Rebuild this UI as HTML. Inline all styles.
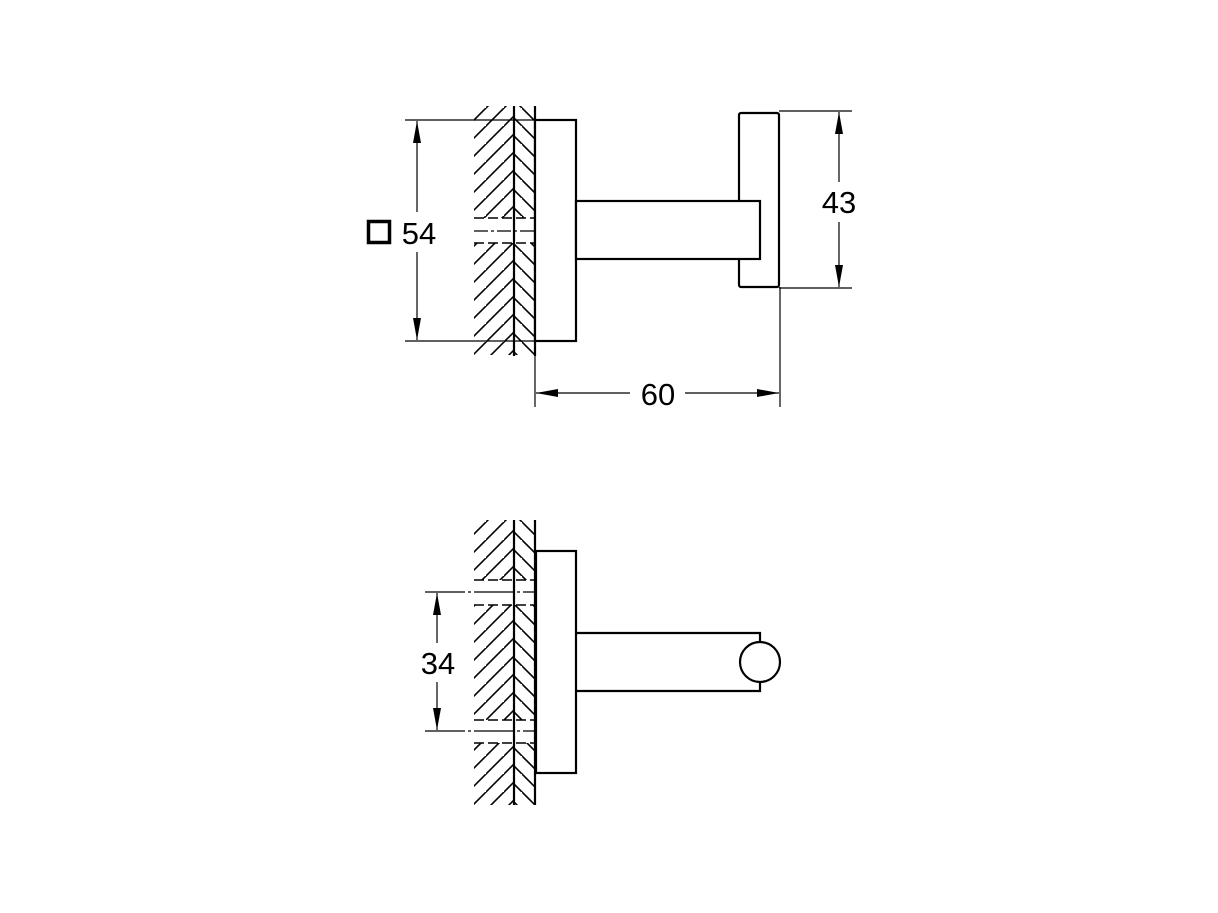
<!DOCTYPE html>
<html><head><style>html,body{margin:0;padding:0;background:#fff}svg{display:block}</style></head>
<body>
<svg width="1218" height="913" viewBox="0 0 1218 913" xmlns="http://www.w3.org/2000/svg" font-family="Liberation Sans, sans-serif">
<defs>
<pattern id="fw" patternUnits="userSpaceOnUse" width="18" height="18"><path d="M-2,20 L20,-2 M-20,20 L2,-2 M16,38 L38,16" stroke="#000" stroke-width="1.6" fill="none"/></pattern>
<pattern id="bw" patternUnits="userSpaceOnUse" width="18" height="18"><path d="M-2,-2 L20,20 M-20,-2 L2,20 M16,-20 L38,2" stroke="#000" stroke-width="1.6" fill="none"/></pattern>
<marker id="ar" viewBox="0 0 22 8" refX="22" refY="4" markerWidth="22" markerHeight="8" markerUnits="userSpaceOnUse" orient="auto"><path d="M0,0 L22,4 L0,8z" fill="#000"/></marker>
</defs>
<g fill="none" stroke="#000">
<rect x="474" y="106" width="40" height="112" fill="url(#fw)" stroke="none"/>
<rect x="474" y="243" width="40" height="112" fill="url(#fw)" stroke="none"/>
<rect x="514" y="106" width="21" height="112" fill="url(#bw)" stroke="none"/>
<rect x="514" y="243" width="21" height="112" fill="url(#bw)" stroke="none"/>
<line x1="514" y1="106" x2="514" y2="356" stroke-width="2.2"/>
<line x1="535" y1="106" x2="535" y2="356" stroke-width="2.2"/>
<line x1="474" y1="218" x2="535" y2="218" stroke-width="1.5" stroke-dasharray="10,4"/>
<line x1="474" y1="243" x2="535" y2="243" stroke-width="1.5" stroke-dasharray="10,4"/>
<line x1="474" y1="231" x2="535" y2="231" stroke-width="1.2" stroke-dasharray="14,3,3,3"/>
<rect x="535" y="120" width="41" height="221" stroke-width="2.2" fill="#fff"/>
<rect x="739" y="113" width="40" height="174" stroke-width="2.2" fill="#fff" rx="2"/>
<rect x="576" y="201" width="184" height="58" stroke-width="2.2" fill="#fff"/>
<line x1="405" y1="120" x2="535" y2="120" stroke-width="1.2"/>
<line x1="405" y1="341" x2="535" y2="341" stroke-width="1.2"/>
<line x1="417" y1="212" x2="417" y2="121" stroke-width="1.2" marker-end="url(#ar)"/>
<line x1="417" y1="252" x2="417" y2="340" stroke-width="1.2" marker-end="url(#ar)"/>
<rect x="368.5" y="221.5" width="21" height="21" stroke-width="3.5"/>
<line x1="779" y1="111" x2="852" y2="111" stroke-width="1.2"/>
<line x1="779" y1="288" x2="852" y2="288" stroke-width="1.2"/>
<line x1="839" y1="182" x2="839" y2="112" stroke-width="1.2" marker-end="url(#ar)"/>
<line x1="839" y1="222" x2="839" y2="287" stroke-width="1.2" marker-end="url(#ar)"/>
<line x1="535" y1="341" x2="535" y2="407" stroke-width="1.2"/>
<line x1="780" y1="287" x2="780" y2="407" stroke-width="1.2"/>
<line x1="630" y1="393" x2="536" y2="393" stroke-width="1.2" marker-end="url(#ar)"/>
<line x1="685" y1="393" x2="779" y2="393" stroke-width="1.2" marker-end="url(#ar)"/>
<rect x="474" y="520" width="40" height="60" fill="url(#fw)" stroke="none"/>
<rect x="474" y="605" width="40" height="115" fill="url(#fw)" stroke="none"/>
<rect x="474" y="743" width="40" height="62" fill="url(#fw)" stroke="none"/>
<rect x="514" y="520" width="21" height="60" fill="url(#bw)" stroke="none"/>
<rect x="514" y="605" width="21" height="115" fill="url(#bw)" stroke="none"/>
<rect x="514" y="743" width="21" height="62" fill="url(#bw)" stroke="none"/>
<line x1="514" y1="520" x2="514" y2="805" stroke-width="2.2"/>
<line x1="535" y1="520" x2="535" y2="805" stroke-width="2.2"/>
<line x1="474" y1="580" x2="535" y2="580" stroke-width="1.5" stroke-dasharray="10,4"/>
<line x1="474" y1="605" x2="535" y2="605" stroke-width="1.5" stroke-dasharray="10,4"/>
<line x1="474" y1="720" x2="535" y2="720" stroke-width="1.5" stroke-dasharray="10,4"/>
<line x1="474" y1="743" x2="535" y2="743" stroke-width="1.5" stroke-dasharray="10,4"/>
<line x1="425" y1="592" x2="535" y2="592" stroke-width="1.2" stroke-dasharray="40,3,3,3"/>
<line x1="425" y1="731" x2="535" y2="731" stroke-width="1.2" stroke-dasharray="40,3,3,3"/>
<line x1="437" y1="643" x2="437" y2="593" stroke-width="1.2" marker-end="url(#ar)"/>
<line x1="437" y1="682" x2="437" y2="730" stroke-width="1.2" marker-end="url(#ar)"/>
<rect x="536" y="551" width="40" height="222" stroke-width="2.2" fill="#fff"/>
<path d="M576,633 H760 V643 M760,681 V691 H576" stroke-width="2.2"/>
<circle cx="760" cy="662" r="20" stroke-width="2.2" fill="#fff"/>
</g>
<g font-size="31" fill="#000" text-anchor="middle">
<text x="419" y="244">54</text>
<text x="839" y="213">43</text>
<text x="658" y="405">60</text>
<text x="438" y="674">34</text>
</g>
</svg>
</body></html>
